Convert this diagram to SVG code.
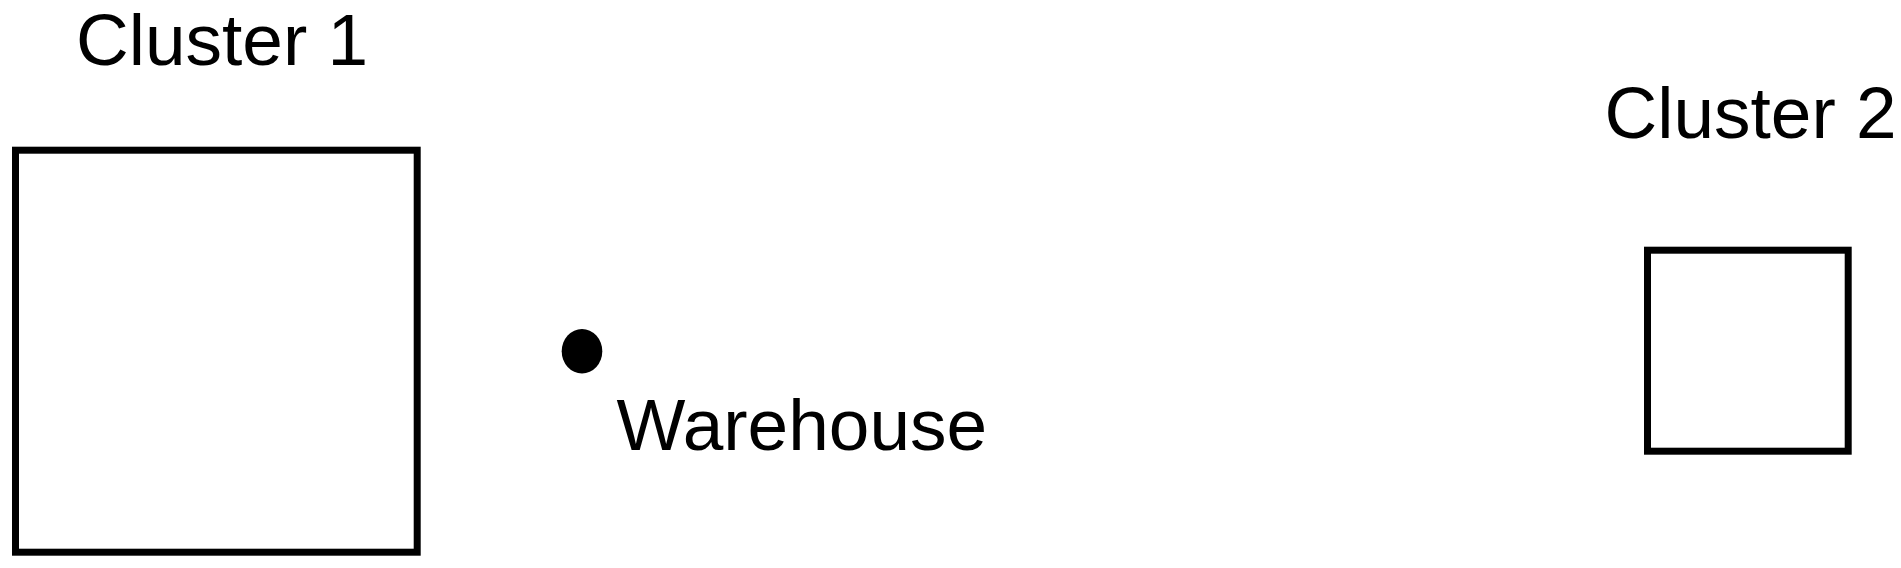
<svg xmlns="http://www.w3.org/2000/svg" width="1901" height="568" viewBox="0 0 1901 568">
<style>
.box{fill:none;stroke:#000;stroke-width:7}
.lbl{font-family:"Liberation Sans",Arial,sans-serif;font-size:73px;fill:#000}
</style>
<rect width="1901" height="568" fill="#fff"/>
<g id="cluster1">
<rect class="box" x="15.5" y="150.2" width="401.7" height="402"/>
<text class="lbl" x="76" y="64.5">Cluster 1</text>
</g>
<g id="cluster2">
<rect class="box" x="1647.5" y="250.2" width="200.7" height="201"/>
<text class="lbl" x="1604.5" y="138.3">Cluster 2</text>
</g>
<g id="warehouse">
<ellipse cx="582" cy="351.2" rx="20.3" ry="22.2" fill="#000"/>
<text class="lbl" x="616.5" y="450">Warehouse</text>
</g>
<g id="connectors"/>
</svg>
